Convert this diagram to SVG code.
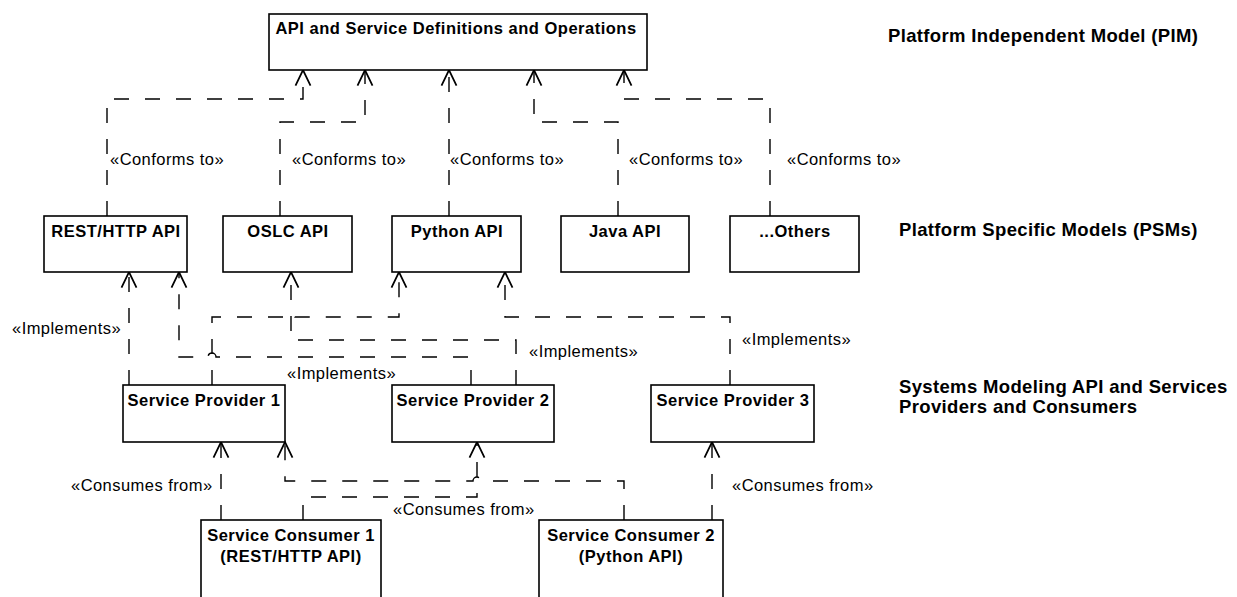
<svg xmlns="http://www.w3.org/2000/svg" width="1237" height="597" viewBox="0 0 1237 597">
<style>
.box{fill:#fff;stroke:#000;stroke-width:1.6}
.nt{font-family:"Liberation Sans",Arial,sans-serif;font-weight:bold;font-size:16.5px;letter-spacing:0.5px;text-anchor:middle;fill:#000}
.side{font-family:"Liberation Sans",Arial,sans-serif;font-weight:bold;font-size:18.5px;letter-spacing:0.35px;fill:#000}
.lbl{font-family:"Liberation Sans",Arial,sans-serif;font-size:16.5px;letter-spacing:0.45px;fill:#000}
.dep{fill:none;stroke:#000;stroke-width:1.4;stroke-dasharray:15 16;marker-end:url(#open)}
</style>
<defs>
<marker id="open" markerUnits="userSpaceOnUse" markerWidth="20" markerHeight="20" refX="0" refY="0" viewBox="-14 -8 16 16" orient="auto" overflow="visible">
<path d="M-12.5,-6 L0,0 L-12.5,6" fill="none" stroke="#000" stroke-width="1.4"/>
</marker>
</defs>
<rect width="1237" height="597" fill="#fff"/>

<g id="connectors">
<path class="dep" d="M107,216 V99 H303 V70"/>
<path class="dep" d="M280,216 V122 H365 V70"/>
<path class="dep" d="M449,216 V70"/>
<path class="dep" d="M618,216 V122 H534 V70"/>
<path class="dep" d="M770,216 V99 H624 V70"/>
<path class="dep" d="M129,385 V272"/>
<path class="dep" d="M212,385 V317 H287 A4 4 0 0 1 295,317 H399 V272"/>
<path class="dep" d="M516,385 V340 H291 V272"/>
<path class="dep" d="M471,385 V357 H216 A4 4 0 0 0 208,357 H179 V272"/>
<path class="dep" d="M730,385 V317 H505 V272"/>
<path class="dep" d="M221,520 V442"/>
<path class="dep" d="M303,520 V497 H477 V442"/>
<path class="dep" d="M624,520 V481 H481 A4 4 0 0 0 473,481 H285 V442"/>
<path class="dep" d="M712,520 V442"/>
<text class="lbl" x="110" y="165">«Conforms to»</text>
<text class="lbl" x="292" y="165">«Conforms to»</text>
<text class="lbl" x="450" y="165">«Conforms to»</text>
<text class="lbl" x="629" y="165">«Conforms to»</text>
<text class="lbl" x="787" y="165">«Conforms to»</text>
<text class="lbl" x="12" y="334">«Implements»</text>
<text class="lbl" x="287" y="379">«Implements»</text>
<text class="lbl" x="529" y="357">«Implements»</text>
<text class="lbl" x="742" y="345">«Implements»</text>
<text class="lbl" x="71" y="491">«Consumes from»</text>
<text class="lbl" x="393" y="515">«Consumes from»</text>
<text class="lbl" x="732" y="491">«Consumes from»</text>
</g>

<g id="pim">
<rect class="box" x="269" y="14" width="378" height="56"/>
<text class="nt" x="456" y="34">API and Service Definitions and Operations</text>
</g>
<g id="rest">
<rect class="box" x="44" y="216" width="143" height="56"/>
<text class="nt" x="116" y="237">REST/HTTP API</text>
</g>
<g id="oslc">
<rect class="box" x="223" y="216" width="129" height="56"/>
<text class="nt" x="288" y="237">OSLC API</text>
</g>
<g id="python">
<rect class="box" x="392" y="216" width="129" height="56"/>
<text class="nt" x="457" y="237">Python API</text>
</g>
<g id="java">
<rect class="box" x="561" y="216" width="128" height="56"/>
<text class="nt" x="625" y="237">Java API</text>
</g>
<g id="others">
<rect class="box" x="730" y="216" width="129" height="56"/>
<text class="nt" x="795" y="237">...Others</text>
</g>
<g id="sp1">
<rect class="box" x="123" y="385" width="162" height="57"/>
<text class="nt" x="204" y="406">Service Provider 1</text>
</g>
<g id="sp2">
<rect class="box" x="392" y="385" width="162" height="57"/>
<text class="nt" x="473" y="406">Service Provider 2</text>
</g>
<g id="sp3">
<rect class="box" x="651" y="385" width="163" height="57"/>
<text class="nt" x="733" y="406">Service Provider 3</text>
</g>
<g id="sc1">
<rect class="box" x="201" y="520" width="180" height="90"/>
<text class="nt" x="291" y="541">Service Consumer 1</text>
<text class="nt" x="291" y="562">(REST/HTTP API)</text>
</g>
<g id="sc2">
<rect class="box" x="539" y="520" width="184" height="90"/>
<text class="nt" x="631" y="541">Service Consumer 2</text>
<text class="nt" x="631" y="562">(Python API)</text>
</g>

<g id="layer-labels">
<text class="side" x="888" y="42">Platform Independent Model (PIM)</text>
<text class="side" x="899" y="236">Platform Specific Models (PSMs)</text>
<text class="side" x="899" y="393">Systems Modeling API and Services</text>
<text class="side" x="899" y="413">Providers and Consumers</text>
</g>
</svg>
